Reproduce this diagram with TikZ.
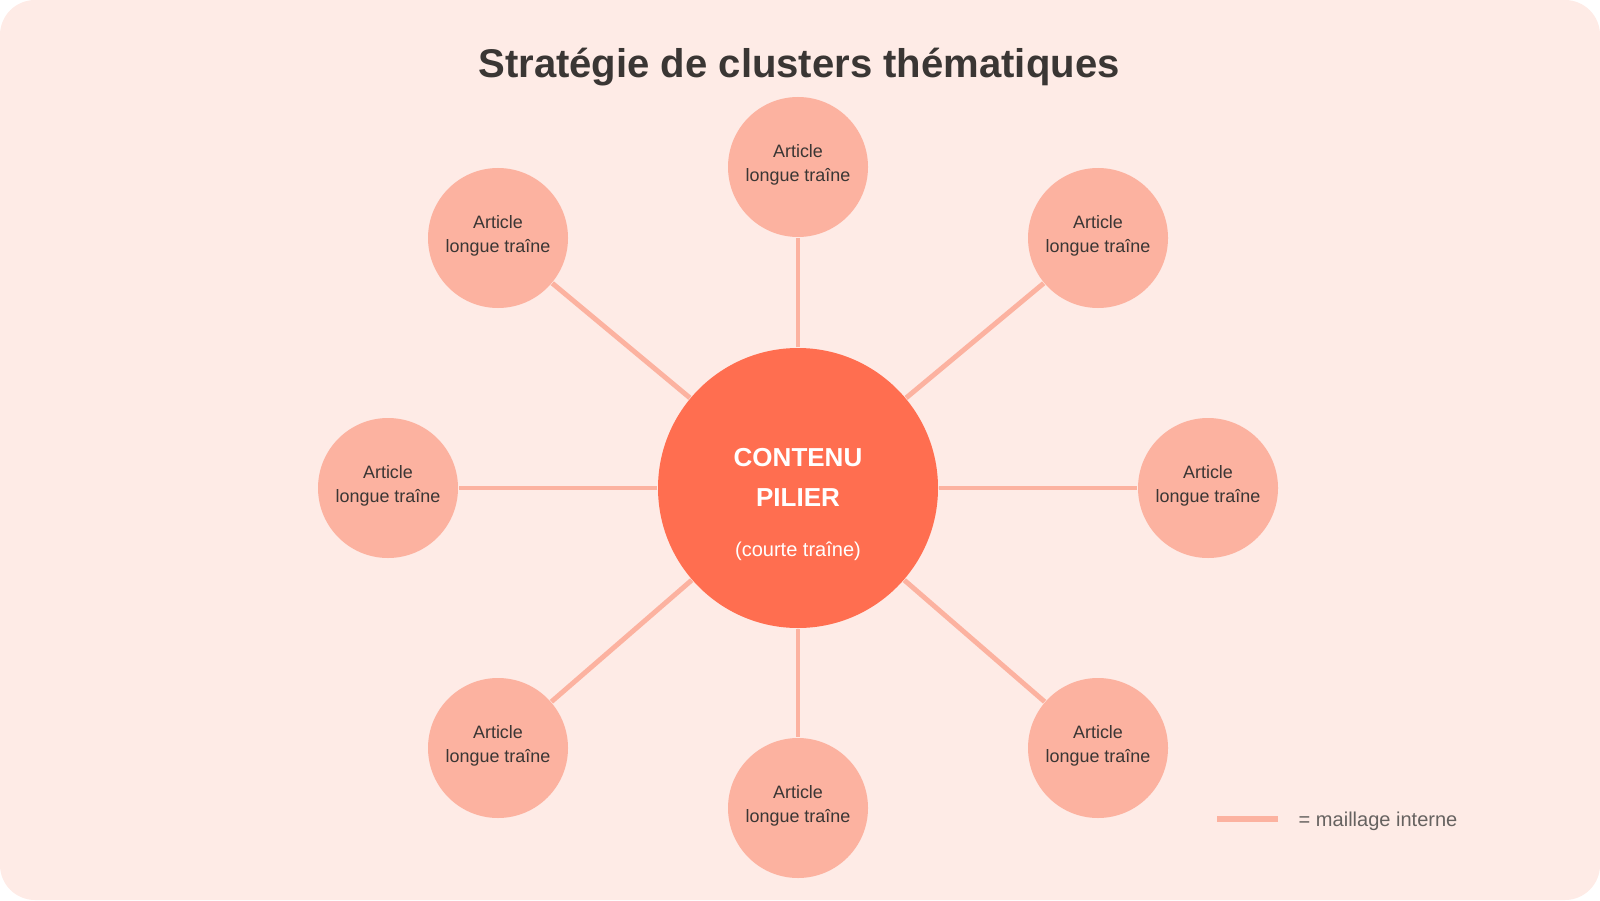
\documentclass[tikz,border=0pt]{standalone}
\usepackage{fontspec}
\setmainfont{Liberation Sans}
\usepackage{tikz}
\usetikzlibrary{positioning,calc}
\definecolor{fondrose}{RGB}{254,235,230}
\definecolor{corail}{RGB}{255,110,80}
\definecolor{saumon}{RGB}{252,178,160}
\definecolor{textefonce}{RGB}{58,54,52}
\definecolor{textegris}{RGB}{102,98,96}

\begin{document}
\begin{tikzpicture}[
        pilier/.style={circle, fill=corail, minimum size=2.80cm, inner sep=0pt},
        article/.style={circle, fill=saumon, minimum size=1.40cm, inner sep=0pt,
                    align=center, text=textefonce, text depth=2.2pt,
                    font=\fontsize{5.1}{6.8}\selectfont},
        lien/.style={draw=saumon, line width=1.4pt}
    ]
    \useasboundingbox (0,0) rectangle (16,9);
    \fill[fondrose, rounded corners=0.35cm] (0,0) rectangle (16,9);

    \node[font=\bfseries\fontsize{11.4}{13}\selectfont, text=textefonce] (titre) at (7.99,8.33) {Stratégie de clusters thématiques};

    \node[pilier] (centre) at (7.98,4.12) {};
    \node[align=center, text=white, font=\bfseries\fontsize{7.4}{11.4}\selectfont] (centre-titre) at (7.98,4.23) {CONTENU\\PILIER};
    \node[text=white, font=\fontsize{5.7}{7}\selectfont] (centre-sous) at (7.98,3.49) {(courte traîne)};

    \node[article] (haut) at (7.98,7.33) {Article\\longue traîne};
    \node[article] (hautg) at (4.98,6.62) {Article\\longue traîne};
    \node[article] (hautd) at (10.98,6.62) {Article\\longue traîne};
    \node[article] (gauche) at (3.88,4.12) {Article\\longue traîne};
    \node[article] (droite) at (12.08,4.12) {Article\\longue traîne};
    \node[article] (basg) at (4.98,1.52) {Article\\longue traîne};
    \node[article] (basd) at (10.98,1.52) {Article\\longue traîne};
    \node[article] (bas) at (7.98,0.92) {Article\\longue traîne};

    \draw[lien] (centre) -- (haut);
    \draw[lien] (centre) -- (hautg);
    \draw[lien] (centre) -- (hautd);
    \draw[lien] (centre) -- (gauche);
    \draw[lien] (centre) -- (droite);
    \draw[lien] (centre) -- (basg);
    \draw[lien] (centre) -- (basd);
    \draw[lien] (centre) -- (bas);

    % legende
    \coordinate (leg-a) at (12.17,0.81);
    \coordinate (leg-b) at (12.78,0.81);
    \draw[lien, line width=1.7pt] (leg-a) -- (leg-b);
    \node[anchor=west, inner sep=0pt, text=textegris, font=\fontsize{5.7}{7}\selectfont] (leg-texte) at (12.98,0.79) {= maillage interne};
\end{tikzpicture}
\end{document}
